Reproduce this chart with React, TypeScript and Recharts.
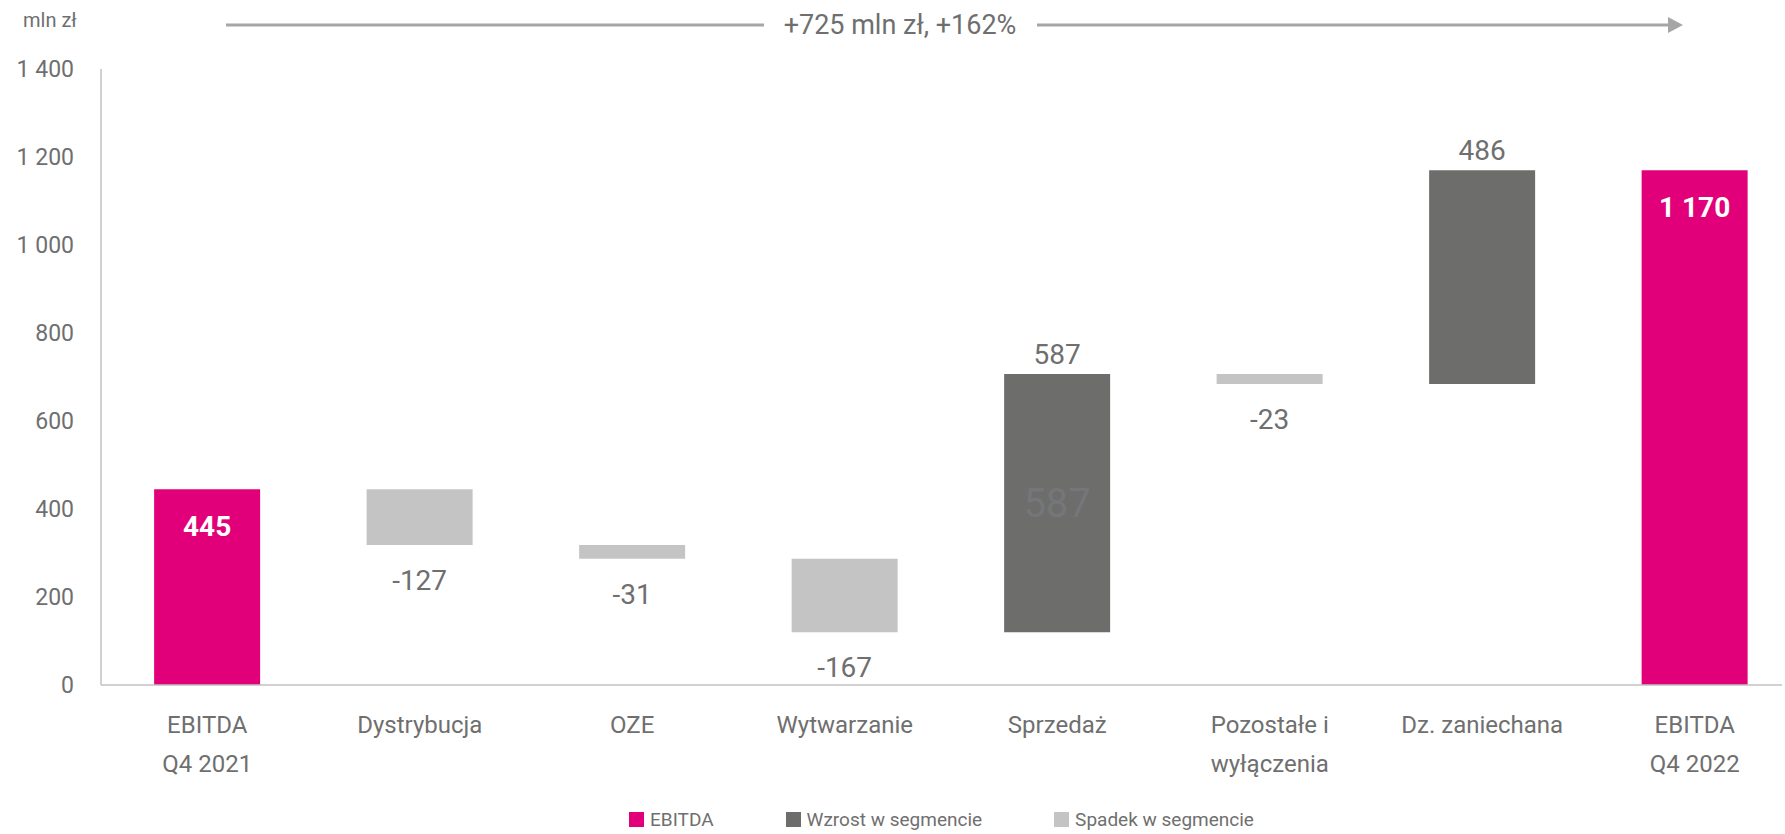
import { BarChart, Bar, XAxis, YAxis, LabelList } from 'recharts';

const categories = [
  'EBITDA\nQ4 2021',
  'Dystrybucja',
  'OZE',
  'Wytwarzanie',
  'Sprzedaż',
  'Pozostałe i\nwyłączenia',
  'Dz. zaniechana',
  'EBITDA\nQ4 2022',
];
const changes = [445, -127, -31, -167, 587, -23, 486, 1170];
const kinds = ['total', 'down', 'down', 'down', 'up', 'down', 'up', 'total'];
// faint duplicate label visible inside one bar of the original
const innerEcho = ['', '', '', '', '587', '', '', ''];
const yTicks = [0, 200, 400, 600, 800, 1000, 1200, 1400];
const headline = '+725 mln zł, +162%';
const unitLabel = 'mln zł';
const seriesNames = ['EBITDA', 'Wzrost w segmencie', 'Spadek w segmencie'];

const PINK = '#e2007a';
const DARK = '#6d6d6b';
const LIGHT = '#c4c4c4';
const TEXT = '#6f6f6f';
const AXIS = '#c2c2c2';

const fmt = (v: number) => {
  const s = Math.abs(v).toString().replace(/\B(?=(\d{3})+(?!\d))/g, ' ');
  return v < 0 ? `-${s}` : s;
};

// waterfall rows: invisible base + the visible piece
let running = 0;
const data = categories.map((name, i) => {
  const c = changes[i];
  const k = kinds[i];
  let base = 0;
  if (k === 'total') {
    running = c;
  } else if (k === 'up') {
    base = running;
    running += c;
  } else {
    running += c;
    base = running;
  }
  return {
    name,
    base,
    ebitda: k === 'total' ? c : 0,
    up: k === 'up' ? c : 0,
    down: k === 'down' ? -c : 0,
    totalLbl: k === 'total' ? fmt(c) : '',
    upLbl: k === 'up' ? fmt(c) + '|' + innerEcho[i] : '',
    downLbl: k === 'down' ? fmt(c) : '',
  };
});

function CategoryTick(props: any) {
  const { x, y, payload } = props;
  const lines = String(payload.value).split('\n');
  return (
    <text x={x} y={y} textAnchor="middle" fill={TEXT} fontSize={24}>
      {lines.map((l, i) => (
        <tspan key={i} x={x} dy={i === 0 ? 48 : 39}>
          {l}
        </tspan>
      ))}
    </text>
  );
}

function totalLabel(p: any) {
  const { x, y, width, value } = p;
  if (!value) return null;
  return (
    <text x={x + width / 2} y={y + 47} textAnchor="middle" fill="#fff" fontSize={28} fontWeight={700}>
      {value}
    </text>
  );
}

function upLabel(p: any) {
  const { x, y, width, height, value } = p;
  if (!value) return null;
  const [main, echo] = String(value).split('|');
  const cx = x + width / 2;
  return (
    <g>
      <text x={cx} y={y - 10} textAnchor="middle" fill={TEXT} fontSize={28}>
        {main}
      </text>
      {echo && (
        <text x={cx} y={y + height / 2 + 14} textAnchor="middle" fill="#74767a" fontSize={40}>
          {echo}
        </text>
      )}
    </g>
  );
}

function downLabel(p: any) {
  const { x, y, width, height, value } = p;
  if (!value) return null;
  return (
    <text x={x + width / 2} y={y + height + 45} textAnchor="middle" fill={TEXT} fontSize={28}>
      {value}
    </text>
  );
}

export default function App() {
  const legendColors = [PINK, DARK, LIGHT];
  return (
    <div
      style={{
        position: 'absolute',
        left: 0,
        top: 0,
        width: 1785,
        height: 834,
        overflow: 'hidden',
        background: '#fff',
        fontFamily: 'Roboto, sans-serif',
      }}
    >
      <svg width={1785} height={60} style={{ position: 'absolute', left: 0, top: 0 }}>
        <text x={23} y={27} fill={TEXT} fontSize={20}>
          {unitLabel}
        </text>
        <line x1={226} y1={25} x2={764} y2={25} stroke="#a6a6a6" strokeWidth={3} />
        <line x1={1037} y1={25} x2={1672} y2={25} stroke="#a6a6a6" strokeWidth={3} />
        <polygon points="1668,17 1683,25 1668,33" fill="#a6a6a6" />
        <text x={900} y={34} textAnchor="middle" fill={TEXT} fontSize={27}>
          {headline}
        </text>
      </svg>
      <BarChart
        width={1785}
        height={834}
        data={data}
        margin={{ top: 69, right: 3, bottom: 119, left: 0 }}
        barCategoryGap="25%"
      >
        <XAxis
          dataKey="name"
          height={30}
          interval={0}
          tick={<CategoryTick />}
          tickLine={false}
          tickSize={0}
          tickMargin={0}
          stroke={AXIS}
          strokeWidth={1.5}
          padding={{ left: 0, right: -19 }}
        />
        <YAxis
          width={101}
          domain={[0, 1400]}
          ticks={yTicks}
          interval={0}
          tickFormatter={fmt}
          tickLine={false}
          tickSize={0}
          tickMargin={27}
          tick={{ fill: TEXT, fontSize: 23 }}
          stroke={AXIS}
          strokeWidth={1.5}
        />
        <Bar dataKey="base" stackId="a" fill="transparent" legendType="none" isAnimationActive={false} />
        <Bar dataKey="ebitda" name={seriesNames[0]} stackId="a" fill={PINK} isAnimationActive={false}>
          <LabelList dataKey="totalLbl" content={totalLabel} />
        </Bar>
        <Bar dataKey="up" name={seriesNames[1]} stackId="a" fill={DARK} isAnimationActive={false}>
          <LabelList dataKey="upLbl" content={upLabel} />
        </Bar>
        <Bar dataKey="down" name={seriesNames[2]} stackId="a" fill={LIGHT} isAnimationActive={false}>
          <LabelList dataKey="downLbl" content={downLabel} />
        </Bar>
      </BarChart>
      <div
        style={{
          position: 'absolute',
          top: 808,
          left: 101,
          width: 1681,
          display: 'flex',
          justifyContent: 'center',
          gap: 72,
          fontSize: 19,
          color: TEXT,
        }}
      >
        {seriesNames.map((n, i) => (
          <div key={n} style={{ display: 'flex', alignItems: 'center' }}>
            <span
              style={{ width: 15, height: 15, background: legendColors[i], marginRight: 6, display: 'inline-block' }}
            />
            <span>{n}</span>
          </div>
        ))}
      </div>
    </div>
  );
}
